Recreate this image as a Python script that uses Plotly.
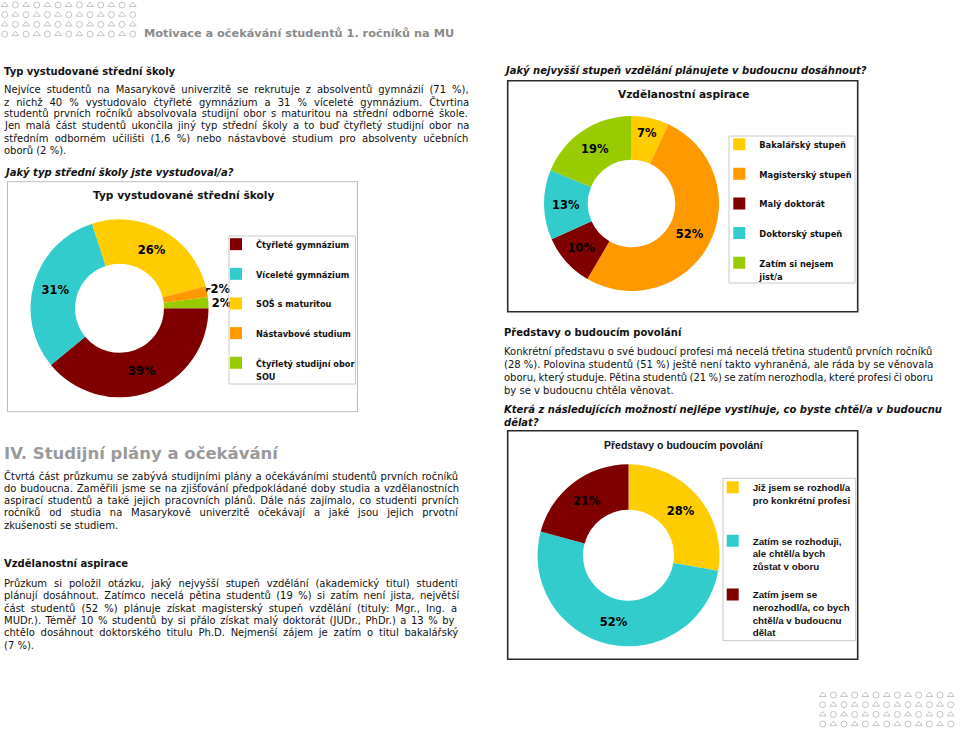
import plotly.graph_objects as go

W, H = 960, 732

# ---------------- data ----------------
school_labels = ["Čtyřleté gymnázium", "Víceleté gymnázium", "SOŠ s maturitou",
                 "Nástavbové studium", "Čtyřletý studijní obor<br>SOU"]
school_values = [39, 31, 26, 2, 2]
school_colors = ["#800000", "#33CCCC", "#FFCC00", "#FF9900", "#99CC00"]

asp_labels = ["Bakalářský stupeň", "Magisterský stupeň", "Malý doktorát",
              "Doktorský stupeň", "Zatím si nejsem<br>jist/a"]
asp_values = [7, 52, 10, 13, 19]
asp_colors = ["#FFCC00", "#FF9900", "#800000", "#33CCCC", "#99CC00"]

job_labels = ["Již jsem se rozhodl/a<br>pro konkrétní profesi",
              "Zatím se rozhoduji,<br>ale chtěl/a bych<br>zůstat v oboru",
              "Zatím jsem se<br>nerozhodl/a, co bych<br>chtěl/a v budoucnu<br>dělat"]
job_values = [28, 52, 21]
job_colors = ["#FFCC00", "#33CCCC", "#800000"]

# ---------------- helpers ----------------
def px_dom(cx, cy, r):
    return dict(x=[(cx - r) / W, (cx + r) / W], y=[1 - (cy + r) / H, 1 - (cy - r) / H])


def pad(label, nlines, size=None):
    lines = label.split("<br>")
    if size:
        lines = [f"<span style='font-size:{size}px'>{l}</span>" for l in lines]
    out = "<br>".join(lines)
    out += "<br>\u00a0" * (nlines - len(lines))
    return out

# approximate DejaVu Sans advance widths (units of 1/2048 em) for justification
_base = {" ": 651, "!": 821, "%": 1946, "(": 799, ")": 799, ",": 651, "-": 739, ".": 651,
         "/": 690, ":": 690, "A": 1401, "B": 1405, "C": 1430, "D": 1577, "E": 1294, "F": 1178,
         "G": 1587, "H": 1540, "I": 604, "J": 604, "K": 1343, "L": 1141, "M": 1767, "N": 1532,
         "O": 1612, "P": 1235, "R": 1423, "S": 1300, "T": 1251, "U": 1499, "V": 1401, "Z": 1405,
         "a": 1255, "b": 1300, "c": 1126, "d": 1300, "e": 1260, "f": 721, "g": 1300, "h": 1298,
         "i": 569, "j": 569, "k": 1186, "l": 569, "m": 1995, "n": 1298, "o": 1253, "p": 1300,
         "q": 1300, "r": 842, "s": 1067, "t": 803, "u": 1298, "v": 1212, "w": 1675, "x": 1212,
         "y": 1212, "z": 1075}
for d in "0123456789":
    _base[d] = 1303
_acc = {"á": "a", "č": "c", "ď": "d", "é": "e", "ě": "e", "í": "i", "ň": "n", "ó": "o", "ř": "r",
        "š": "s", "ť": "t", "ú": "u", "ů": "u", "ý": "y", "ž": "z", "Č": "C", "Š": "S", "Ž": "Z",
        "Ř": "R", "Ú": "U"}
SPW = 651 / 2048


def text_w(s, size):
    tot = 0
    for ch in s:
        ch2 = _acc.get(ch, ch)
        tot += _base.get(ch2, 1250)
    return tot / 2048 * size


def gap_html(extra, size):
    unit = SPW * size
    if extra <= 0:
        fs = max(1.0, (unit + extra) / SPW)
        return f"<span style='font-size:{fs:.2f}px'>\u00a0</span>"
    n = int(extra // unit)
    r = extra - n * unit
    s = "\u00a0" * (1 + n)
    if r > 0.05:
        s += f"<span style='font-size:{r / SPW:.2f}px'>\u00a0</span>"
    return s


def justify(line, width, size=10):
    words = line.split(" ")
    gaps = len(words) - 1
    if gaps <= 0:
        return line
    extra = (width - text_w(line, size)) / gaps
    return gap_html(extra, size).join(words)

BODY = "DejaVu Sans"
lbl_font = dict(family=BODY, size=11.5, color="#000", weight="bold")

fig = go.Figure()

# decorative glyph pattern (header / footer)
dx, dy, sym = [], [], []
for x0, y0 in [(4.7, 5.0), (822.7, 695.0)]:
    for r in range(4):
        for c in range(13):
            dx.append(x0 + c * 10.67)
            dy.append(y0 + r * 9.7)
            sym.append("triangle-up-open" if (r + c) % 2 == 0 else "circle-open")
fig.add_trace(go.Scatter(x=dx, y=dy, mode="markers", showlegend=False, hoverinfo="skip",
                         cliponaxis=False,
                         marker=dict(symbol=sym, size=6, color="#C4C4C4", line=dict(width=1, color="#C4C4C4"))))

# pie 1
fig.add_trace(go.Pie(
    labels=[pad(l, 2, 8.2) for l in school_labels], values=school_values,
    marker=dict(colors=school_colors, line=dict(width=0)),
    hole=0.5, sort=False, direction="clockwise", rotation=90,
    domain=px_dom(119.5, 308.3, 89),
    texttemplate="%{value}%", textposition=["inside", "inside", "inside", "outside", "outside"],
    insidetextorientation="horizontal", textfont=lbl_font, hoverinfo="skip",
    legend="legend"))

# pie 2
fig.add_trace(go.Pie(
    labels=[pad(l, 2, 8.3) for l in asp_labels], values=asp_values,
    marker=dict(colors=asp_colors, line=dict(width=0)),
    hole=0.5, sort=False, direction="clockwise", rotation=0,
    domain=px_dom(631.5, 203.5, 87.5),
    texttemplate="%{value}%", textposition="inside",
    insidetextorientation="horizontal", textfont=lbl_font, hoverinfo="skip",
    legend="legend2"))

# pie 3
fig.add_trace(go.Pie(
    labels=[pad(l, 4) for l in job_labels], values=job_values,
    marker=dict(colors=job_colors, line=dict(width=0)),
    hole=0.5, sort=False, direction="clockwise", rotation=0,
    domain=px_dom(628.5, 555.3, 91),
    texttemplate="%{value}%", textposition="inside",
    insidetextorientation="horizontal", textfont=lbl_font, hoverinfo="skip",
    legend="legend3"))

# ---------------- text ----------------
ann = []


def T(x, y, s, size=10, color="#111", family=BODY, anchor="left"):
    ann.append(dict(x=x, y=y, xref="x", yref="y", text=s, showarrow=False,
                    xanchor=anchor, yanchor="middle", align="left",
                    font=dict(family=family, size=size, color=color)))


def para(x, y0, step, lines, width, size=10):
    for i, l in enumerate(lines):
        s = justify(l, width, size) if i < len(lines) - 1 else l
        T(x, y0 + i * step, s, size)

T(142, 33, "<b>Motivace a očekávání studentů 1. ročníků na MU</b>", 11.3, "#8A8A8A")
T(1.5, 71, "<b>Typ vystudované střední školy</b>")
para(1.5, 89.3, 12.2, [
    "Nejvíce studentů na Masarykově univerzitě se rekrutuje z absolventů gymnázií (71 %),",
    "z nichž 40 % vystudovalo čtyřleté gymnázium a 31 % víceleté gymnázium. Čtvrtina",
    "studentů prvních ročníků absolvovala studijní obor s maturitou na střední odborné škole.",
    "Jen malá část studentů ukončila jiný typ střední školy a to buď čtyřletý studijní obor na",
    "středním odborném učilišti (1,6 %) nebo nástavbové studium pro absolventy učebních",
    "oborů (2 %)."], 465)
T(1.5, 172, "<b><i>Jaký typ střední školy jste vystudoval/a?</i></b>")
T(183, 195, "<b>Typ vystudované střední školy</b>", 10.6, "#111", anchor="center")

T(1.5, 453, "<b>IV. Studijní plány a očekávání</b>", 16.5, "#9A9A9A")
para(1.5, 476, 12.3, [
    "Čtvrtá část průzkumu se zabývá studijními plány a očekáváními studentů prvních ročníků",
    "do budoucna. Zaměřili jsme se na zjišťování předpokládané doby studia a vzdělanostních",
    "aspirací studentů a také jejich pracovních plánů. Dále nás zajímalo, co studenti prvních",
    "ročníků od studia na Masarykově univerzitě očekávají a jaké jsou jejich prvotní",
    "zkušenosti se studiem."], 455)
T(1.5, 563.3, "<b>Vzdělanostní aspirace</b>")
para(1.5, 583.3, 12.4, [
    "Průzkum si položil otázku, jaký nejvyšší stupeň vzdělání (akademický titul) studenti",
    "plánují dosáhnout. Zatímco necelá pětina studentů (19 %) si zatím není jista, největší",
    "část studentů (52 %) plánuje získat magisterský stupeň vzdělání (tituly: Mgr., Ing. a",
    "MUDr.). Téměř 10 % studentů by si přálo získat malý doktorát (JUDr., PhDr.) a 13 % by",
    "chtělo dosáhnout doktorského titulu Ph.D. Nejmenší zájem je zatím o titul bakalářský",
    "(7 %)."], 455)

T(501.5, 70.7, "<b><i>Jaký nejvyšší stupeň vzdělání plánujete v budoucnu dosáhnout?</i></b>")
T(683, 94, "<b>Vzdělanostní aspirace</b>", 10.6, "#111", anchor="center")
T(501.5, 332.7, "<b>Představy o budoucím povolání</b>")
para(501.5, 351, 13.3, [
    "Konkrétní představu o své budoucí profesi má necelá třetina studentů prvních ročníků",
    "(28 %). Polovina studentů (51 %) ještě není takto vyhraněná, ale ráda by se věnovala",
    "oboru, který studuje. Pětina studentů (21 %) se zatím nerozhodla, které profesi či oboru",
    "by se v budoucnu chtěla věnovat."], 430)
T(501.5, 409, "<b><i>Která z následujících možností nejlépe vystihuje, co byste chtěl/a v budoucnu</i></b>")
T(501.5, 422, "<b><i>dělat?</i></b>")
T(684, 445, "<b>Představy o budoucím povolání</b>", 10.5, "#111", family="Liberation Sans", anchor="center")

# ---------------- frames ----------------
shapes = []


def box(x0, y0, x1, y1, color, width):
    shapes.append(dict(type="rect", xref="x", yref="y", x0=x0, y0=y0, x1=x1, y1=y1,
                       line=dict(color=color, width=width), fillcolor="rgba(0,0,0,0)"))

box(7.5, 181.7, 357.5, 411.7, "#BDBDBD", 1)
box(507.7, 80.7, 857.7, 311.7, "#2A2A2A", 1.6)
box(507.7, 430.7, 857.7, 659.3, "#2A2A2A", 1.6)
box(229, 236, 355.5, 384, "#C8C8C8", 1)
box(729, 136, 855, 283, "#C8C8C8", 1)
box(723, 478.3, 855.7, 640.7, "#C8C8C8", 1)


def leg(left, top, size, family=BODY):
    return dict(x=left / W, y=1 - top / H, xref="paper", yref="paper",
                xanchor="left", yanchor="top", bgcolor="rgba(0,0,0,0)", borderwidth=0,
                valign="top", tracegroupgap=0, itemclick=False, itemdoubleclick=False,
                font=dict(family=family, size=size, color="#111", weight="bold"))

fig.update_layout(
    width=W, height=H, margin=dict(l=0, r=0, t=0, b=0, autoexpand=False),
    paper_bgcolor="white", plot_bgcolor="white",
    xaxis=dict(range=[0, W], visible=False, fixedrange=True, domain=[0, 1]),
    yaxis=dict(range=[H, 0], visible=False, fixedrange=True, domain=[0, 1]),
    annotations=ann, shapes=shapes,
    legend=leg(216, 231, 10.25),
    legend2=leg(719.3, 131, 10.25),
    legend3=leg(712.7, 474.3, 9.75, "Liberation Sans"),
    showlegend=True,
)

fig.write_html("out.html", config={"displayModeBar": False})
